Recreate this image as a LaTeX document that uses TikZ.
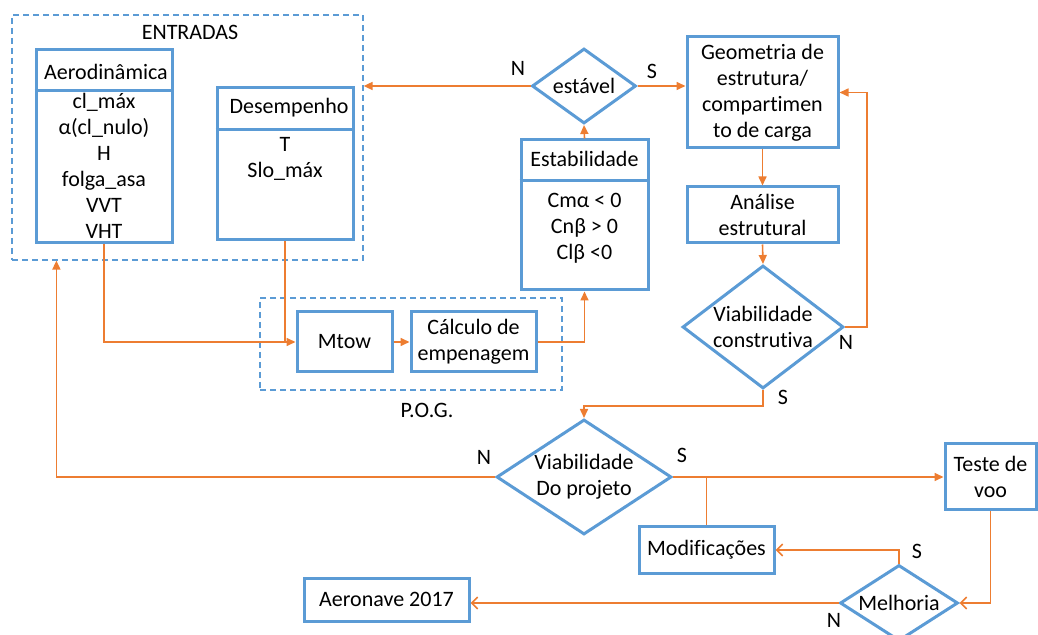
\documentclass[tikz,border=0pt]{standalone}
\usepackage{fontspec}
\setmainfont{Carlito}[Ligatures=NoCommon]
\usetikzlibrary{arrows.meta,shapes.geometric}
\definecolor{fluxblue}{RGB}{91,155,213}
\definecolor{fluxorange}{RGB}{237,125,49}

\begin{document}
\begin{tikzpicture}[x=0.5pt, y=-0.5pt,
    font=\fontsize{11}{13}\selectfont,
    box/.style={draw=fluxblue, line width=1.5pt, inner sep=0pt, align=center},
    group/.style={draw=fluxblue, line width=0.6pt, dash pattern=on 3pt off 2pt, inner sep=0pt},
    decision/.style={diamond, draw=fluxblue, line width=1.5pt, inner sep=0pt},
    txt/.style={inner sep=0pt, align=center},
    flow/.style={draw=fluxorange, line width=0.8pt},
    arr/.style={flow, -{Triangle[length=4.5pt, width=4pt]}},
    arro/.style={flow, -{Straight Barb[length=3pt, width=6pt]}}
  ]
  \useasboundingbox (0,0) rectangle (1038,635);

  % Entradas
  \node[group, minimum width=175.5pt, minimum height=122.5pt] (ent) at (187.5,137.5) {};
  \node[txt] (enttitle) at (190,32) {ENTRADAS};
  \node[box, minimum width=68pt, minimum height=96.5pt] (aero) at (104,146.5) {};
  \draw[fluxblue, line width=1.5pt] (aero.west |- 0,91) -- (aero.east |- 0,91);
  \node[txt] (aerotitle) at (106,72) {Aerodinâmica};
  \node[txt] (aerolist) at (104,165.5) {cl\_máx\\α(cl\_nulo)\\H\\folga\_asa\\VVT\\VHT};
  \node[box, minimum width=68pt, minimum height=76pt] (desemp) at (285,164) {};
  \draw[fluxblue, line width=1.5pt] (desemp.west |- 0,130) -- (desemp.east |- 0,130);
  \node[txt] (desemptitle) at (289,108) {Desempenho};
  \node[txt] (desemplist) at (285,159) {T\\Slo\_máx};

  % P.O.G.
  \node[group, minimum width=151pt, minimum height=46pt] (pog) at (411,344) {};
  \node[txt] (pogtitle) at (427,410) {P.O.G.};
  \node[box, minimum width=47.5pt, minimum height=30pt] (mtow) at (344.5,342) {Mtow};
  \node[box, minimum width=62.5pt, minimum height=30pt] (calc) at (473.5,342) {Cálculo de\\empenagem};

  % Estabilidade
  \node[box, minimum width=63.5pt, minimum height=75pt] (estab) at (584.5,215) {};
  \draw[fluxblue, line width=1.5pt] (estab.west |- 0,181) -- (estab.east |- 0,181);
  \node[txt] (estabtitle) at (584.5,159) {Estabilidade};
  \node[txt] (establist) at (584.5,228) {Cmα < 0\\Cnβ > 0\\Clβ <0};
  \node[decision, minimum width=52pt, minimum height=37.5pt] (est) at (584,86) {};
  \node[txt] (esttext) at (est) {estável};

  % Estrutura
  \node[box, minimum width=75.5pt, minimum height=55.5pt] (geom) at (762.5,92.5) {Geometria de\\estrutura/\\compartimen\\to de carga};
  \node[box, minimum width=75.5pt, minimum height=28pt] (anal) at (762.5,215) {Análise\\estrutural};
  \node[decision, minimum width=80.5pt, minimum height=61.5pt] (vc) at (763,327) {};
  \node[txt] (vctext) at (vc) {Viabilidade\\construtiva};

  % Projeto e voo
  \node[decision, minimum width=87.5pt, minimum height=57.5pt] (vp) at (584,477) {};
  \node[txt] (vptext) at (vp) {Viabilidade\\Do projeto};
  \node[box, minimum width=45.5pt, minimum height=33pt] (teste) at (990.5,477) {Teste de\\voo};
  \node[box, minimum width=67.5pt, minimum height=23pt] (modif) at (706.5,550) {Modificações};
  \node[decision, minimum width=59pt, minimum height=38pt] (mel) at (899,603) {};
  \node[txt] (meltext) at (mel) {Melhoria};
  \node[box, minimum width=82.5pt, minimum height=21.5pt] (aer) at (386.5,599.5) {Aeronave 2017};

  % Conexoes
  \draw[arr] (aero.south) |- (mtow.west);
  \draw[flow] (desemp.south) -- (desemp.south |- mtow.west);
  \draw[arr] (mtow.east) -- (calc.west);
  \draw[arr] (calc.east) -| (estab.south);
  \draw[arr] (estab.north) -- (est.south);
  \draw[arr] (est.west) -- (est.west -| ent.east);
  \draw[arr] (est.east) -- (est.east -| geom.west);
  \draw[arr] (geom.south) -- (anal.north);
  \draw[arr] (anal.south) -- (vc.north);
  \draw[arr] (vc.east) -- ++(22,0) |- (geom.east);
  \draw[arr] (vc.south) -- ++(0,16) -| (vp.north);
  \draw[arr] (vp.west) -| ([xshift=22.5pt]ent.south west);
  \draw[arr] (vp.east) -- (teste.west);
  \coordinate (br) at (modif.north |- vp.east);
  \draw[flow] (br) -- (modif.north);
  \draw[arro] (teste.south) |- (mel.east);
  \draw[arro] (mel.north) |- (modif.east);
  \draw[arro] (mel.west) -- (mel.west -| aer.east);

  % S / N
  \node[txt] (n1) at (518,68) {N};
  \node[txt] (s1) at (652,71) {S};
  \node[txt] (n2) at (846,342) {N};
  \node[txt] (s2) at (783,397) {S};
  \node[txt] (n3) at (484,457) {N};
  \node[txt] (s3) at (682,455) {S};
  \node[txt] (s4) at (917,551) {S};
  \node[txt] (n4) at (834,620) {N};
\end{tikzpicture}
\end{document}
